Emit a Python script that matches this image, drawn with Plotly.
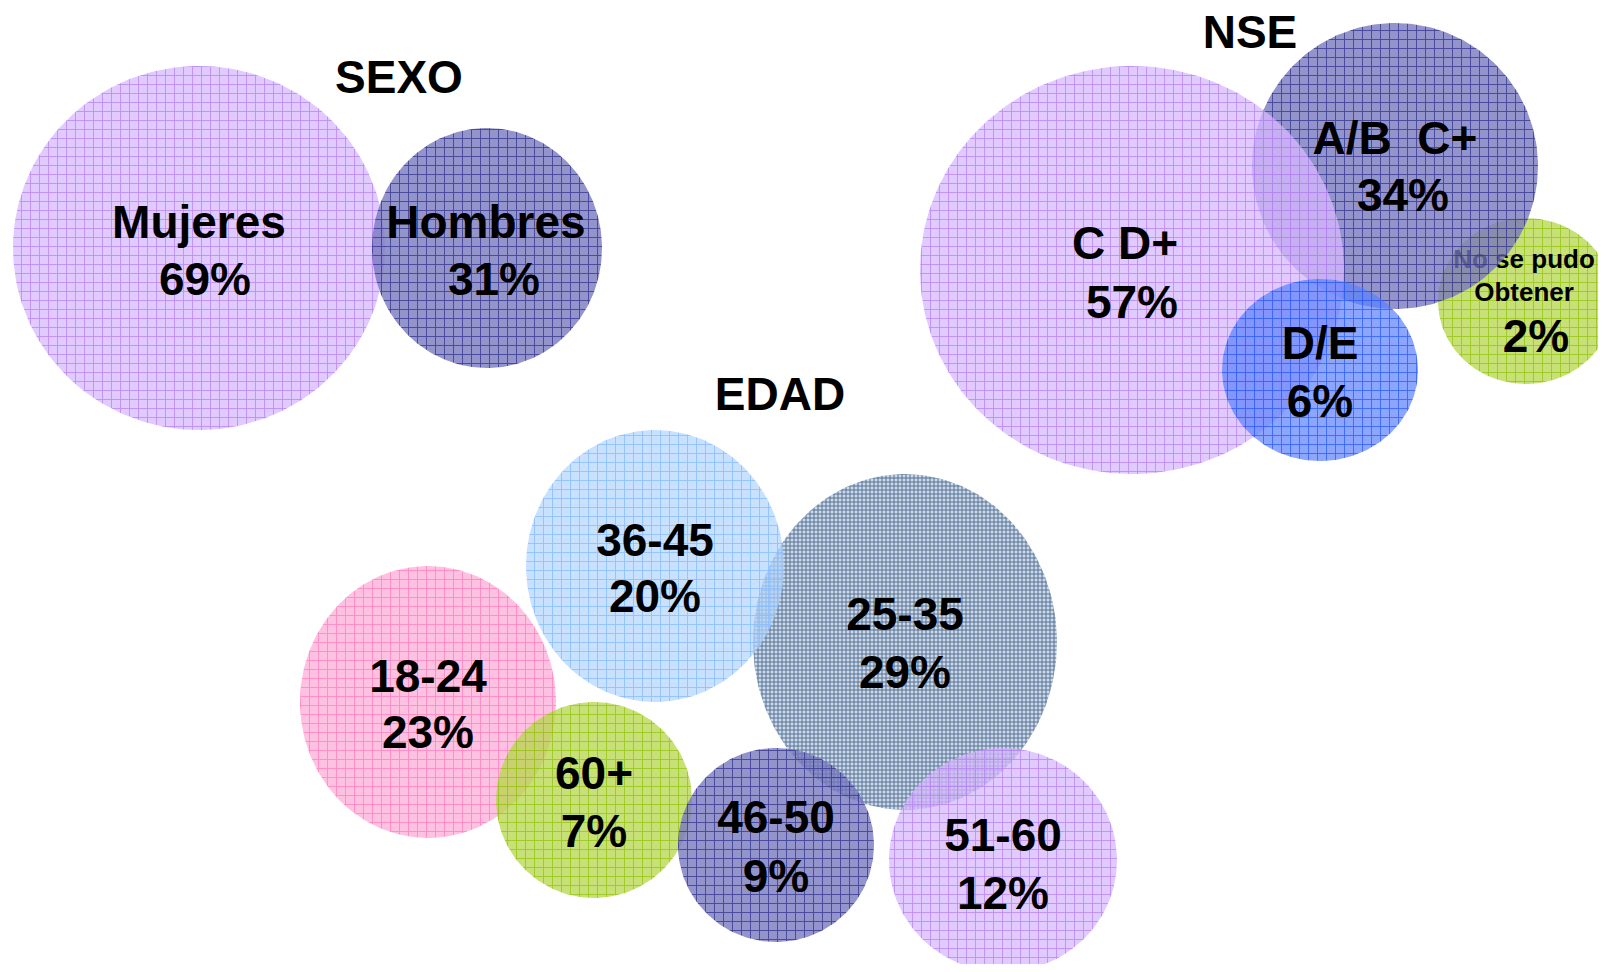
import numpy as np
import plotly.graph_objects as go

# ---------------- data ----------------
sexo_labels = ["Mujeres", "Hombres"]
sexo_values = [69, 31]

nse_labels = ["No se pudo<br>Obtener", "A/B  C+", "C D+", "D/E"]
nse_values = [2, 34, 57, 6]

edad_labels = ["25-35", "18-24", "36-45", "60+", "46-50", "51-60"]
edad_values = [29, 23, 20, 7, 9, 12]

group_titles = ["SEXO", "NSE", "EDAD"]

# ---------------- layout (bubble geometry, in canvas units) ----------------
sexo_cx = [199, 487]
sexo_cy = [248, 248]
sexo_rx = [186, 115]
sexo_ry = [182, 120]
sexo_name_xy = [(199, 226), (486, 226)]
sexo_pct_xy = [(205, 283), (494, 283)]
sexo_style = ["lav", "slate"]

nse_cx = [1526, 1395, 1132, 1320]
nse_cy = [301, 166, 270, 370]
nse_rx = [88, 143, 212, 98]
nse_ry = [83, 143, 204, 91]
nse_name_xy = [(1524, 278), (1395, 142), (1125, 247), (1320, 347)]
nse_pct_xy = [(1536, 340), (1403, 199), (1132, 306), (1320, 405)]
nse_name_size = [26, 46, 46, 46]
nse_style = ["green", "slate", "lav", "blue"]

edad_cx = [905, 428, 655, 594, 776, 1003]
edad_cy = [642, 702, 566, 800, 845, 860]
edad_rx = [152, 128, 129, 98, 98, 114]
edad_ry = [168, 136, 136, 98, 97, 112]
edad_name_xy = [(905, 618), (428, 680), (655, 544), (594, 777), (776, 821), (1003, 839)]
edad_pct_xy = [(905, 676), (428, 736), (655, 600), (594, 835), (776, 880), (1003, 897)]
edad_style = ["steel", "pink", "lightblue", "green", "slate", "lav"]

title_xy = [(399, 81), (1250, 36), (780, 398)]

# fill style: (background rgba, grid colour, grid opacity, pattern size, solidity)
styles = {
    "lav": ("rgba(214,184,255,0.75)", "#b27cf0", 0.75, 9, 0.2),
    "slate": ("rgba(118,118,190,0.78)", "#35358f", 0.8, 9, 0.2),
    "blue": ("rgba(92,128,255,0.70)", "#2a5cf5", 0.8, 9, 0.2),
    "green": ("rgba(180,214,72,0.75)", "#94c214", 0.8, 9, 0.2),
    "lightblue": ("rgba(178,214,255,0.72)", "#86bcff", 0.8, 9, 0.2),
    "pink": ("rgba(255,172,214,0.75)", "#ff7fbd", 0.8, 9, 0.2),
    "steel": ("rgba(196,210,228,0.85)", "#33577f", 0.9, 4, 0.38),
}

FONT = "Liberation Sans, Arial, sans-serif"
fig = go.Figure()


def ellipse(cx, cy, rx, ry):
    t = np.linspace(0, 2 * np.pi, 241)
    return cx + rx * np.cos(t), cy + ry * np.sin(t)


def add_bubble(cx, cy, rx, ry, style):
    bg, fg, fgop, size, sol = styles[style]
    xs, ys = ellipse(cx, cy, rx, ry)
    fig.add_trace(go.Scatter(
        x=xs, y=ys, mode="lines", fill="toself",
        line=dict(width=0, color=bg), fillcolor=bg,
        fillpattern=dict(shape="+", size=size, solidity=sol,
                         fgcolor=fg, fgopacity=fgop, bgcolor=bg),
        hoverinfo="skip", showlegend=False))


def add_text(xy, text, size, color="black"):
    fig.add_trace(go.Scatter(
        x=[xy[0]], y=[xy[1]], mode="text", text=[text],
        textposition="middle center", cliponaxis=False,
        textfont=dict(family=FONT, size=size, color=color, weight="bold"),
        hoverinfo="skip", showlegend=False))


# NSE: "No se pudo" bubble and its small label sit under the A/B bubble
add_bubble(nse_cx[0], nse_cy[0], nse_rx[0], nse_ry[0], nse_style[0])
add_text(nse_name_xy[0], nse_labels[0], nse_name_size[0])
for i in range(1, len(nse_labels)):
    add_bubble(nse_cx[i], nse_cy[i], nse_rx[i], nse_ry[i], nse_style[i])

for i in range(len(sexo_labels)):
    add_bubble(sexo_cx[i], sexo_cy[i], sexo_rx[i], sexo_ry[i], sexo_style[i])

for i in range(len(edad_labels)):
    add_bubble(edad_cx[i], edad_cy[i], edad_rx[i], edad_ry[i], edad_style[i])

# labels
for i, lab in enumerate(sexo_labels):
    add_text(sexo_name_xy[i], lab, 46)
    add_text(sexo_pct_xy[i], f"{sexo_values[i]}%", 46)

for i, lab in enumerate(nse_labels):
    if i > 0:
        add_text(nse_name_xy[i], lab, nse_name_size[i])
    add_text(nse_pct_xy[i], f"{nse_values[i]}%", 46)

for i, lab in enumerate(edad_labels):
    add_text(edad_name_xy[i], lab, 46)
    add_text(edad_pct_xy[i], f"{edad_values[i]}%", 46)

for t, xy in zip(group_titles, title_xy):
    add_text(xy, t, 46)

# the page body adds an 8px margin on every side; size the figure so the
# page does not overflow and offset the canvas units by that margin
fig.update_layout(
    width=1590, height=956,
    margin=dict(l=0, r=0, t=0, b=0),
    paper_bgcolor="white", plot_bgcolor="white",
    xaxis=dict(range=[8, 1598], visible=False, fixedrange=True),
    yaxis=dict(range=[964, 8], visible=False, fixedrange=True),
    showlegend=False,
)

fig.write_html("out.html")
